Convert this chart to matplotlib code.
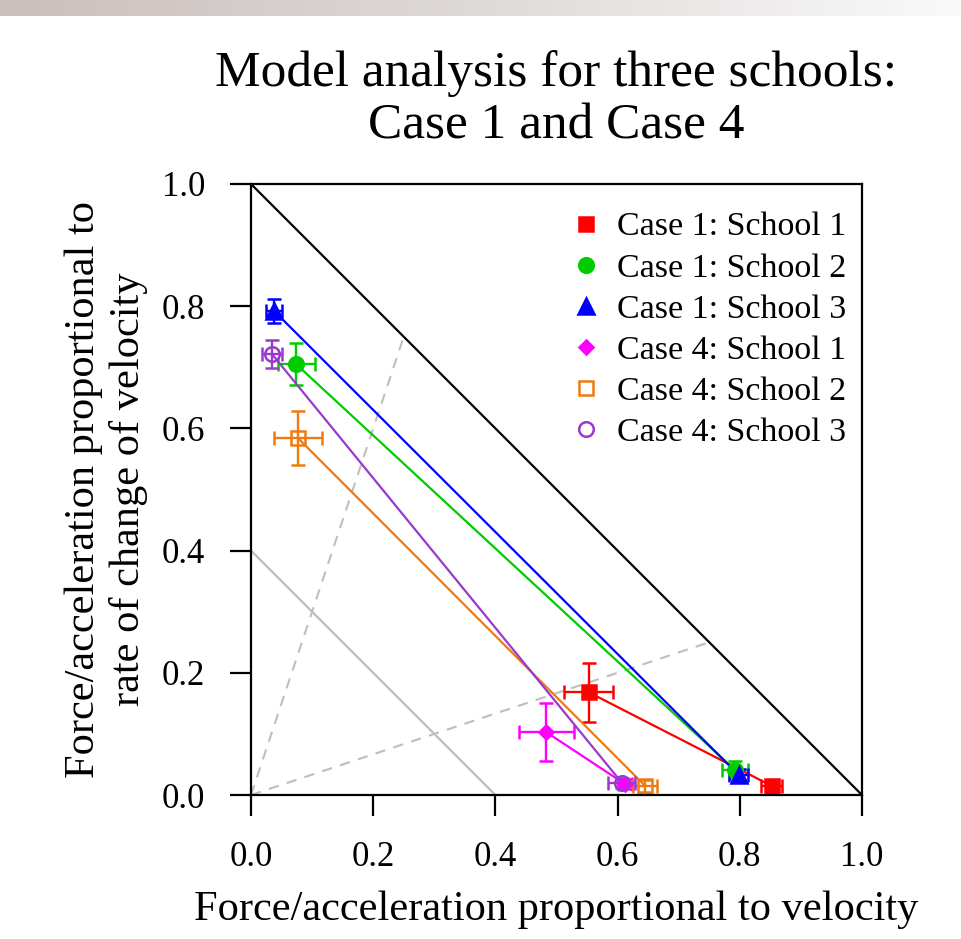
import numpy as np
import matplotlib
matplotlib.use('Agg')
from matplotlib import pyplot as plt

plt.rcParams['font.family'] = ['Liberation Serif', 'DejaVu Serif']

labels = ['Case 1: School 1', 'Case 1: School 2', 'Case 1: School 3',
          'Case 4: School 1', 'Case 4: School 2', 'Case 4: School 3']
colors = ['#ff0000', '#00cc00', '#0000ff', '#ff00ff', '#ee7a10', '#9a3acc']
markers = ['s', 'o', '^', 'D', 's', 'o']
filled = [True, True, True, True, False, False]
msizes = [10.5, 10.5, 11.5, 7.5, 9.5, 10.5]

# start and end point of each school (x, y) with errors
x_start = [0.553, 0.074, 0.038, 0.483, 0.077, 0.034]
y_start = [0.168, 0.705, 0.792, 0.103, 0.584, 0.722]
xerr_start = [0.040, 0.030, 0.013, 0.045, 0.040, 0.016]
yerr_start = [0.048, 0.034, 0.020, 0.047, 0.044, 0.023]
x_end = [0.852, 0.792, 0.798, 0.612, 0.645, 0.607]
y_end = [0.015, 0.041, 0.033, 0.018, 0.015, 0.020]
xerr_end = [0.017, 0.021, 0.016, 0.012, 0.020, 0.022]
yerr_end = [0.005, 0.014, 0.010, 0.008, 0.010, 0.008]

fig = plt.figure(figsize=(9.62, 9.39), dpi=100)

# grey strip at top
strip = fig.add_axes([0, 1 - 16/939, 1, 16/939])
grad = np.linspace(0, 1, 256)[None, :]
strip.imshow(grad, aspect='auto', cmap=matplotlib.colors.LinearSegmentedColormap.from_list(
    'g', ['#cbbfbd', '#dedad8', '#fafafa']))
strip.axis('off')

ax = fig.add_axes([251/962, 1 - 795/939, 611/962, 611/939])

ax.plot([0, 1], [1, 0], color='black', lw=1.6)
ax.plot([0, 0.4], [0.4, 0], color='#bebebe', lw=1.6)
ax.plot([0, 0.25], [0, 0.75], color='#bebebe', lw=1.5, ls=(0, (5, 4)))
ax.plot([0, 0.75], [0, 0.25], color='#bebebe', lw=1.5, ls=(0, (5, 4)))

for i in range(6):
    c = colors[i]
    ax.plot([x_start[i], x_end[i]], [y_start[i], y_end[i]], color=c, lw=1.6)
    mfc = c if filled[i] else 'none'
    ax.errorbar([x_start[i], x_end[i]], [y_start[i], y_end[i]],
                xerr=[xerr_start[i], xerr_end[i]], yerr=[yerr_start[i], yerr_end[i]],
                fmt=markers[i], color=c, mfc=mfc, mec=c, mew=1.8, ms=msizes[i],
                elinewidth=1.7, capsize=5, capthick=1.7, label=labels[i])

ax.set_xlim(0, 1)
ax.set_ylim(0, 1)
ticks = [0.0, 0.2, 0.4, 0.6, 0.8, 1.0]
ax.set_xticks(ticks)
ax.set_yticks(ticks)
ax.set_xticklabels(['%.1f' % t for t in ticks])
ax.set_yticklabels(['%.1f' % t for t in ticks])
ax.tick_params(direction='out', length=15, width=1.6, labelsize=25, pad=18)
for s in ax.spines.values():
    s.set_linewidth(1.6)

ax.set_xlabel('Force/acceleration proportional to velocity', fontsize=30.5, labelpad=12)
ax.set_ylabel('Force/acceleration proportional to\nrate of change of velocity',
              fontsize=30.5, labelpad=10, linespacing=1.2)
ax.set_title('Model analysis for three schools:\nCase 1 and Case 4', fontsize=37,
             pad=33, linespacing=1.15)

handles, labs = ax.get_legend_handles_labels()
handles = [h[0] for h in handles]
ax.legend(handles, labs, loc='upper right', frameon=False, fontsize=24.5,
          handletextpad=0.4, labelspacing=0.3, handlelength=1.0,
          borderaxespad=0.0, bbox_to_anchor=(0.9967, 0.977))

fig.savefig('out.png', dpi=100)
